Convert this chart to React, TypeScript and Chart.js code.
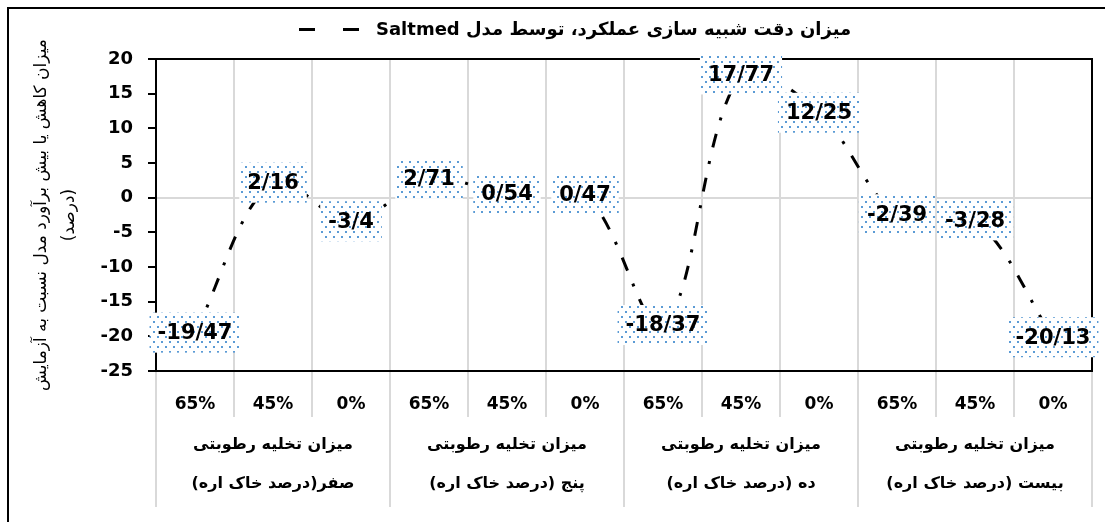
import React, { useEffect, useRef } from 'react';
import { Chart, registerables } from 'chart.js';

Chart.register(...registerables);

const FONT = '"DejaVu Sans", sans-serif';

const categories = ['65%', '45%', '0%', '65%', '45%', '0%', '65%', '45%', '0%', '65%', '45%', '0%'];
const groupLine1 = ['میزان تخلیه رطوبتی', 'میزان تخلیه رطوبتی', 'میزان تخلیه رطوبتی', 'میزان تخلیه رطوبتی'];
const groupLine2 = ['صفر(درصد خاک اره)', 'پنج (درصد خاک اره)', 'ده (درصد خاک اره)', 'بیست (درصد خاک اره)'];
const values = [-19.47, 2.16, -3.4, 2.71, 0.54, 0.47, -18.37, 17.77, 12.25, -2.39, -3.28, -20.13];
const yMin = -25;
const yMax = 20;
const yStep = 5;
const seriesName = 'میزان دقت شبیه سازی عملکرد، توسط مدل Saltmed';
const yTitle = ['میزان کاهش یا بیش برآورد مدل نسبت به آزمایش', '(درصد)'];

function makePattern(ctx: CanvasRenderingContext2D) {
  const pc = document.createElement('canvas');
  pc.width = 8;
  pc.height = 10;
  const g = pc.getContext('2d')!;
  g.fillStyle = '#ffffff';
  g.fillRect(0, 0, 8, 10);
  g.fillStyle = '#5b9bd5';
  g.fillRect(1, 1, 2, 2);
  g.fillRect(5, 6, 2, 2);
  return ctx.createPattern(pc, 'repeat');
}

const framePlugin = {
  id: 'framePlugin',
  beforeDraw(chart: any) {
    const ctx = chart.ctx;
    ctx.save();
    ctx.fillStyle = '#ffffff';
    ctx.fillRect(0, 0, chart.width, chart.height);
    ctx.strokeStyle = '#000';
    ctx.lineWidth = 2;
    ctx.strokeRect(8, 8, chart.width + 20, chart.height + 20);

    // legend (series key + name)
    ctx.lineWidth = 3;
    ctx.setLineDash([16, 28]);
    ctx.beginPath();
    ctx.moveTo(299, 29.5);
    ctx.lineTo(359, 29.5);
    ctx.stroke();
    ctx.setLineDash([]);
    ctx.fillStyle = '#000';
    ctx.font = 'bold 18px ' + FONT;
    (ctx as any).direction = 'rtl';
    ctx.textAlign = 'left';
    ctx.textBaseline = 'middle';
    ctx.fillText(seriesName, 376, 30);
    ctx.restore();
  },
  beforeDatasetsDraw(chart: any) {
    const ctx = chart.ctx;
    const a = chart.chartArea;
    const xs = chart.scales.x;
    ctx.save();
    ctx.strokeStyle = '#000';
    ctx.lineWidth = 2;
    ctx.beginPath();
    ctx.moveTo(a.left, a.top);
    ctx.lineTo(a.right, a.top);
    ctx.lineTo(a.right, a.bottom);
    ctx.stroke();

    const n = categories.length;
    const w = (a.right - a.left) / n;
    ctx.strokeStyle = '#d9d9d9';
    for (let i = 0; i <= n; i++) {
      const xx = i < n ? xs.getPixelForValue(i) - w / 2 : xs.getPixelForValue(n - 1) + w / 2;
      const end = i % 3 === 0 ? 507 : 417;
      ctx.beginPath();
      ctx.moveTo(xx, a.bottom + 1);
      ctx.lineTo(xx, end);
      ctx.stroke();
    }
    ctx.fillStyle = '#000';
    ctx.font = 'bold 16px ' + FONT;
    (ctx as any).direction = 'rtl';
    ctx.textAlign = 'center';
    ctx.textBaseline = 'middle';
    for (let gi = 0; gi < groupLine1.length; gi++) {
      const cx = xs.getPixelForValue(gi * 3 + 1);
      ctx.fillText(groupLine1[gi], cx, 445);
      ctx.fillText(groupLine2[gi], cx, 484);
    }
    ctx.restore();
  },
  afterDatasetsDraw(chart: any) {
    const ctx = chart.ctx;
    const meta = chart.getDatasetMeta(0);
    const pattern = makePattern(ctx);
    ctx.save();
    ctx.font = 'bold 21px ' + FONT;
    ctx.textAlign = 'center';
    ctx.textBaseline = 'middle';
    meta.data.forEach((pt: any, i: number) => {
      const txt = String(values[i]).replace('.', '/');
      const tw = ctx.measureText(txt).width;
      const bw = tw + 16;
      const bh = 40;
      ctx.fillStyle = pattern as any;
      ctx.fillRect(pt.x - bw / 2, pt.y - bh / 2, bw, bh);
      ctx.fillStyle = '#000';
      ctx.fillText(txt, pt.x, pt.y + 1);
    });
    ctx.restore();
  },
};

export default function App() {
  const ref = useRef<HTMLCanvasElement>(null);
  useEffect(() => {
    document.body.style.margin = '0';
    Chart.defaults.font.family = FONT;
    const chart = new Chart(ref.current!, {
      type: 'line',
      data: {
        labels: categories,
        datasets: [
          {
            label: seriesName,
            data: values,
            borderColor: '#000',
            borderWidth: 3,
            borderDash: [14, 14, 3, 14],
            tension: 0.35,
            pointRadius: 0,
            fill: false,
          },
        ],
      },
      options: {
        responsive: false,
        animation: false,
        events: [],
        layout: { padding: { left: 10, right: 13, top: 59, bottom: 15 } },
        plugins: {
          tooltip: { enabled: false },
          legend: { display: false },
        },
        scales: {
          x: {
            type: 'category',
            offset: true,
            grid: { offset: true, color: '#d9d9d9', lineWidth: 2, drawTicks: false },
            border: { display: true, color: '#000', width: 2 },
            ticks: {
              color: '#000',
              font: { family: FONT, size: 17, weight: 'bold' },
              padding: 23,
              maxRotation: 0,
              autoSkip: false,
            },
            afterFit: (s: any) => {
              s.height = 136;
            },
          },
          y: {
            min: yMin,
            max: yMax,
            ticks: {
              stepSize: yStep,
              color: '#000',
              font: { family: FONT, size: 18, weight: 'bold' },
              padding: 15,
            },
            grid: {
              color: (c: any) => (c.tick && c.tick.value === 0 ? '#d9d9d9' : 'rgba(0,0,0,0)'),
              lineWidth: 2,
              tickColor: '#000',
              tickLength: 8,
              drawTicks: true,
            },
            border: { color: '#000', width: 2 },
            title: {
              display: true,
              text: yTitle,
              color: '#000',
              font: { family: FONT, size: 17, weight: 'normal', lineHeight: 1.65 },
              padding: { top: 18, bottom: 0 },
            },
            afterFit: (s: any) => {
              s.width = 146;
            },
          },
        },
      },
      plugins: [framePlugin],
    } as any);
    return () => chart.destroy();
  }, []);
  return <canvas ref={ref} width={1105} height={522} style={{ display: 'block' }} />;
}
